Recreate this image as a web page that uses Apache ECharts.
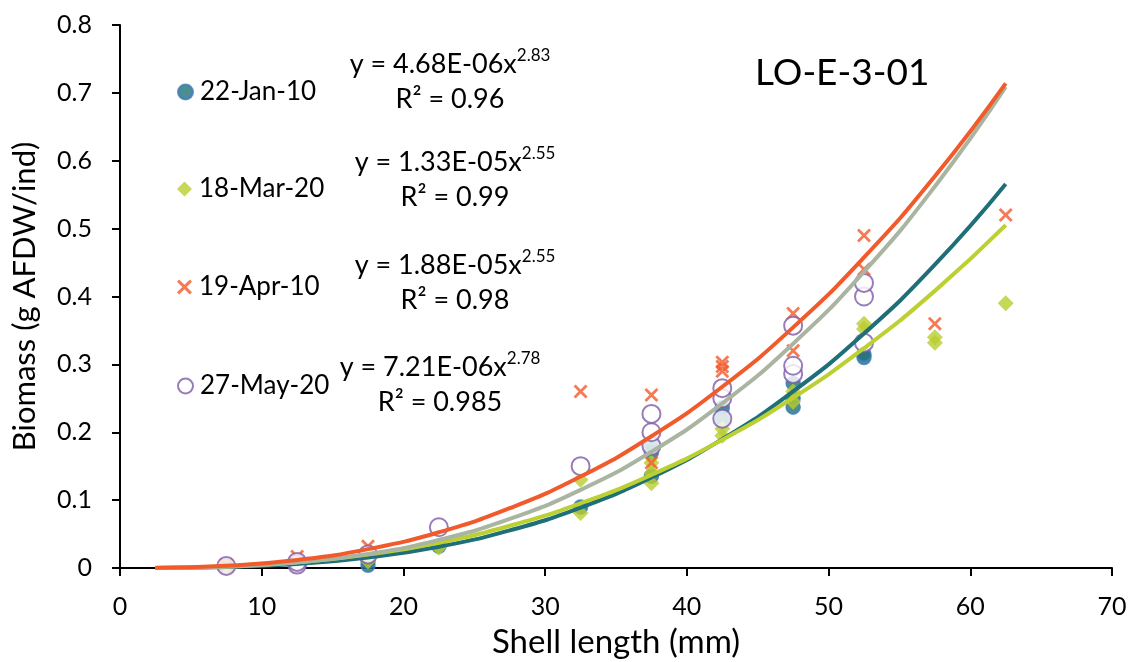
<!DOCTYPE html>
<html>
<head>
<meta charset="utf-8">
<script src="https://cdn.jsdelivr.net/npm/echarts@6/dist/echarts.min.js"></script>
<style>
  html, body { margin: 0; padding: 0; background: #fff; }
  #chart { width: 1134px; height: 662px; }
</style>
</head>
<body>
<div id="chart"></div>
<script>
  // scatter points [shell length, biomass]
  const jan10 = [[7.5, 0.003], [12.5, 0.006], [17.5, 0.004], [17.5, 0.01], [22.5, 0.032],
    [32.5, 0.09], [37.5, 0.135], [37.5, 0.17], [37.5, 0.18], [42.5, 0.22], [42.5, 0.236],
    [47.5, 0.237], [47.5, 0.25], [47.5, 0.272], [52.5, 0.31], [52.5, 0.315]]
  const mar20 = [[7.5, 0.002], [12.5, 0.005], [17.5, 0.01], [22.5, 0.03], [32.5, 0.081],
    [32.5, 0.13], [37.5, 0.125], [37.5, 0.14], [37.5, 0.155], [42.5, 0.195], [42.5, 0.205],
    [47.5, 0.245], [47.5, 0.26], [52.5, 0.352], [52.5, 0.36], [57.5, 0.332], [57.5, 0.34],
    [62.5, 0.39]]
  const apr10 = [[7.5, 0.004], [7.5, 0.005], [12.5, 0.017], [17.5, 0.032], [32.5, 0.26],
    [37.5, 0.255], [37.5, 0.155], [42.5, 0.29], [42.5, 0.297], [42.5, 0.303], [47.5, 0.375],
    [47.5, 0.32], [52.5, 0.49], [52.5, 0.44], [57.5, 0.36], [62.5, 0.52]]
  const may20 = [[7.5, 0.003], [12.5, 0.005], [12.5, 0.009], [17.5, 0.02], [22.5, 0.06],
    [32.5, 0.15], [37.5, 0.18], [37.5, 0.2], [37.5, 0.227], [42.5, 0.22], [42.5, 0.25],
    [42.5, 0.265], [47.5, 0.286], [47.5, 0.298], [47.5, 0.357], [52.5, 0.332], [52.5, 0.4],
    [52.5, 0.42]]

  // power trendlines, values
  const trendX = [2.5, 7.5, 12.5, 17.5, 22.5, 27.5, 32.5, 37.5, 42.5, 47.5, 52.5, 57.5, 62.5]
  const trendJan = [0.0001, 0.0014, 0.006, 0.0154, 0.0314, 0.0554, 0.0889, 0.1333, 0.1899, 0.2602, 0.3454, 0.4468, 0.5657]
  const trendMar = [0.00014, 0.0023, 0.0083, 0.0197, 0.0373, 0.0623, 0.0953, 0.1373, 0.1889, 0.2508, 0.3238, 0.4083, 0.5052]
  const trendApr = [0.0002, 0.0032, 0.0118, 0.0278, 0.0527, 0.0881, 0.1347, 0.1941, 0.267, 0.3545, 0.4577, 0.5771, 0.7141]
  const trendMay = [0.0001, 0.002, 0.0081, 0.0206, 0.0414, 0.0723, 0.1151, 0.1713, 0.2426, 0.3305, 0.4365, 0.5621, 0.7089]

  const names = ['22-Jan-10', '18-Mar-20', '19-Apr-10', '27-May-20']
  const equations = [
    ['4.68E-06', '2.83', '0.96'],
    ['1.33E-05', '2.55', '0.99'],
    ['1.88E-05', '2.55', '0.98'],
    ['7.21E-06', '2.78', '0.985']
  ]

  const FONT = 'Lato, "Open Sans", sans-serif'
  const crossPath = 'path://M0,2 L2,0 L7,5 L12,0 L14,2 L9,7 L14,12 L12,14 L7,9 L2,14 L0,12 L5,7 Z'

  function pair(xs, ys) {
    return xs.map((x, i) => [x, ys[i]])
  }

  function trend(data, color) {
    return {
      type: 'line', data: pair(trendX, data), smooth: true, showSymbol: false, z: 5,
      lineStyle: { color: color, width: 4 }, silent: true
    }
  }

  const legendTops = [74, 171, 269, 368]
  const eqPos = [[450, 64], [455, 162], [455, 265], [440, 367]]

  const chart = echarts.init(document.getElementById('chart'))
  chart.setOption({
    animation: false,
    textStyle: { fontFamily: FONT },
    grid: { left: 120, right: 22, top: 25, bottom: 94, outerBoundsMode: 'none' },
    legend: names.map((n, i) => ({
      data: [n], left: 172, top: legendTops[i], itemWidth: 15, itemHeight: 15, itemGap: 8,
      textStyle: { fontSize: 26, color: '#000', fontFamily: FONT, padding: [0, 0, 0, 2] }
    })),
    xAxis: {
      type: 'value', min: 0, max: 70, interval: 10,
      name: 'Shell length (mm)', nameLocation: 'middle', nameGap: 58,
      nameTextStyle: { fontSize: 33, color: '#000' },
      axisLine: { onZero: false, lineStyle: { color: '#000', width: 2 } },
      axisTick: { length: 8, lineStyle: { color: '#000', width: 2 } },
      axisLabel: { fontSize: 25, color: '#000', margin: 26 },
      splitLine: { show: false }
    },
    yAxis: {
      type: 'value', min: 0, max: 0.8, interval: 0.1,
      name: 'Biomass (g AFDW/ind)', nameLocation: 'middle', nameGap: 80,
      nameTextStyle: { fontSize: 31, color: '#000' },
      axisLine: { show: true, lineStyle: { color: '#000', width: 2 } },
      axisTick: { show: true, length: 8, lineStyle: { color: '#000', width: 2 } },
      axisLabel: { fontSize: 25, color: '#000', margin: 28 },
      splitLine: { show: false }
    },
    graphic: [
      {
        type: 'text', left: 755, top: 55,
        style: { text: 'LO-E-3-01', font: '37px ' + FONT, fill: '#000' }
      }
    ].concat(equations.flatMap((eq, i) => [
      {
        type: 'text', x: eqPos[i][0], y: eqPos[i][1],
        style: {
          text: '{m|y = ' + eq[0] + 'x}{s|' + eq[1] + '}',
          align: 'center', verticalAlign: 'middle',
          rich: {
            m: { fontSize: 27, fontFamily: FONT, color: '#000' },
            s: { fontSize: 17, fontFamily: FONT, color: '#000', padding: [0, 0, 16, 0] }
          }
        }
      },
      {
        type: 'text', x: eqPos[i][0], y: eqPos[i][1] + 35,
        style: {
          text: 'R² = ' + eq[2], font: '27px ' + FONT, fill: '#000',
          align: 'center', verticalAlign: 'middle'
        }
      }
    ])),
    series: [
      {
        name: names[0], type: 'scatter', data: jan10, symbol: 'circle', symbolSize: 14, z: 3,
        itemStyle: { color: '#1f6f78', borderColor: '#3d7cc2', borderWidth: 1.5 }
      },
      {
        name: names[1], type: 'scatter', data: mar20, symbol: 'diamond', symbolSize: 16, z: 3,
        itemStyle: { color: '#b9cd2e' }
      },
      {
        name: names[2], type: 'scatter', data: apr10, symbol: crossPath, symbolSize: 14, z: 3,
        itemStyle: { color: '#f15a2b' }
      },
      {
        name: names[3], type: 'scatter', data: may20, symbol: 'emptyCircle', symbolSize: 18, z: 3,
        itemStyle: { color: '#7e5ba8', borderColor: '#7e5ba8', borderWidth: 2 }
      },
      trend(trendJan, '#1f6f78'),
      trend(trendMar, '#bcd032'),
      trend(trendMay, '#a9b5a1'),
      trend(trendApr, '#f15a2b')
    ]
  })
</script>
</body>
</html>
